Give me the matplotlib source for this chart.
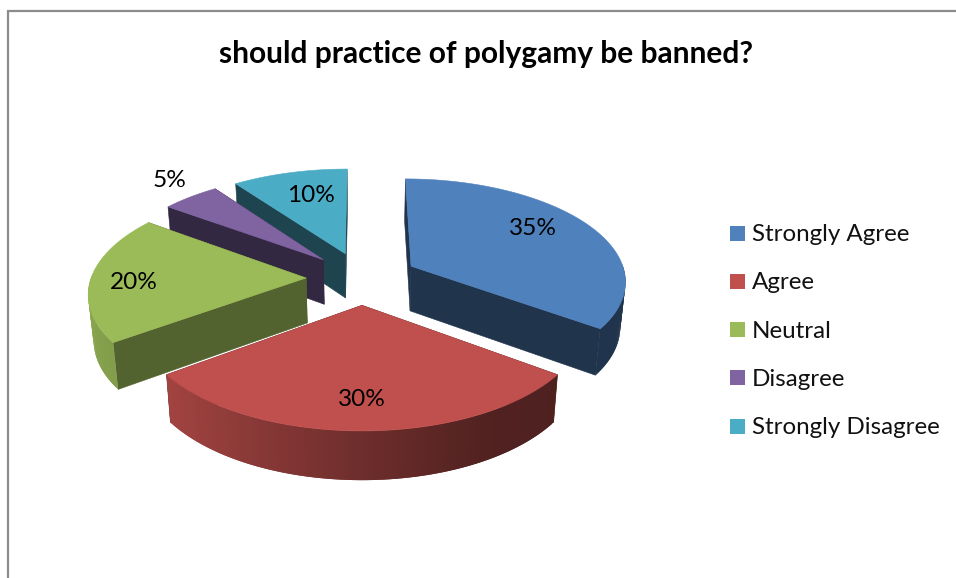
import numpy as np
import matplotlib
matplotlib.use("Agg")
import matplotlib.pyplot as plt
from matplotlib.patches import Polygon, Rectangle

# Survey results
categories = ["Strongly Agree", "Agree", "Neutral", "Disagree", "Strongly Disagree"]
values = [35, 30, 20, 5, 10]
colors = ["#4f81bd", "#c0504d", "#9bbb59", "#8064a2", "#4bacc6"]
title = "should practice of polygamy be banned?"

# Camera model of the tilted, exploded pie (pixel canvas)
CX, CY = 362.0, 278.0
RX, RY = 215.0, 101.5
PERSP = 0.13
EXPLODE = 0.26
DEPTH = 45.0
BASE_X = 0.98

# Brightness of each slice's cut faces
face_shade = [0.40, 0.40, 0.53, 0.40, 0.40]

# Radial position and angular nudge of each percentage label
label_radius = [0.745, 0.765, 0.80, 1.26, 0.71]
label_shift = [-7, 0, -2, 3, 3]

plt.rcParams["font.family"] = ["Lato", "DejaVu Sans"]
fig = plt.figure(figsize=(9.56, 5.78), dpi=100)
ax = fig.add_axes([0, 0, 1, 1])
ax.set_xlim(0, 956)
ax.set_ylim(578, 0)
ax.axis("off")


def project(x, y, base=False):
    """World disc coordinates to canvas pixels; base=True gives the lower rim."""
    x, y = np.asarray(x, float), np.asarray(y, float)
    w = 1 + PERSP * y
    sx = RX * x / w
    sy = CY - RY * y / w
    if base:
        return CX + sx * BASE_X, sy + DEPTH / np.sqrt(w)
    return CX + sx, sy


def shade(rgb, factor):
    return tuple(np.array(rgb) * factor)


def side_factor(theta):
    return np.interp(np.sin(theta), [-1, -0.8, 0, 0.5, 1], [0.88, 0.84, 0.57, 0.42, 0.40])


total = sum(values)
bounds = np.deg2rad(np.cumsum([0] + values) / total * 360)
mids = (bounds[:-1] + bounds[1:]) / 2

z = 1


def add(points, color, stroke=True):
    """Paint a polygon above everything drawn so far."""
    global z
    ax.add_patch(Polygon(points, closed=True, fc=color, ec=color if stroke else "none",
                         lw=0.4, zorder=z))
    z += 1


# Back slices first so the nearer ones paint over them
for i in [4, 3, 2, 0, 1]:
    rgb = matplotlib.colors.to_rgb(colors[i])
    a0, a1 = bounds[i], bounds[i + 1]
    ox, oy = EXPLODE * np.sin(mids[i]), EXPLODE * np.cos(mids[i])
    t = np.linspace(a0, a1, max(int(np.degrees(a1 - a0)), 6) + 1)
    rx, ry = ox + np.sin(t), oy + np.cos(t)

    # cut faces
    for a in (a0, a1):
        ex, ey = ox + np.sin(a), oy + np.cos(a)
        top = np.column_stack(project([ox, ex], [oy, ey]))
        low = np.column_stack(project([ex, ox], [ey, oy], base=True))
        add(np.vstack([top, low]), shade(rgb, face_shade[i]))

    # outer rim: only the part facing the viewer; each strip overlaps the next to hide seams
    for j in range(len(t) - 1):
        if np.cos((t[j] + t[j + 1]) / 2) > 0.02:
            continue
        k = min(j + 3, len(t))
        tx, ty = project(rx[j:k], ry[j:k])
        bx, by = project(rx[j:k], ry[j:k], base=True)
        pts = np.column_stack([np.r_[tx, bx[::-1]], np.r_[ty, by[::-1]]])
        add(pts, shade(rgb, side_factor((t[j] + t[j + 1]) / 2)), stroke=False)

    # top surface
    sx, sy = project(np.r_[ox, rx], np.r_[oy, ry])
    add(np.column_stack([sx, sy]), colors[i])

z_text = z + 10

# Percentage labels
for i, v in enumerate(values):
    a = mids[i] + np.deg2rad(label_shift[i])
    x = EXPLODE * np.sin(mids[i]) + label_radius[i] * np.sin(a)
    y = EXPLODE * np.cos(mids[i]) + label_radius[i] * np.cos(a)
    px, py = project(x, y)
    ax.text(px, py + 1.5, f"{v}%", ha="center", va="center", fontsize=17.6, color="black", zorder=z_text)

# Title
ax.text(486, 54, title, ha="center", va="center", fontsize=21.5, fontweight="bold",
        color="black", zorder=z_text)

# Legend
legend_y = np.linspace(233, 426, len(categories))
for name, c, ly in zip(categories, colors, legend_y):
    ax.add_patch(Rectangle((730, ly - 7.5), 15, 15, fc=c, ec="none", zorder=z_text))
    ax.text(752, ly + 1.5, name, ha="left", va="center", fontsize=17.4, color="#111111", zorder=z_text)

# Chart frame: only the top and left edges fall inside the canvas
ax.plot([8, 8, 956], [578, 11, 11], color="#8c8c8c", lw=1.6, solid_joinstyle="miter", zorder=z_text)

fig.savefig("out.png", dpi=100, facecolor="white")
